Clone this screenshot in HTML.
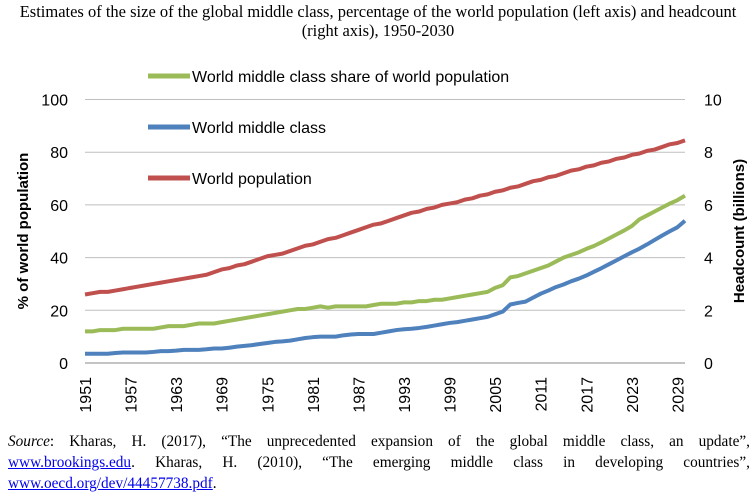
<!DOCTYPE html>
<html><head><meta charset="utf-8">
<style>
body{margin:0;background:#fff;width:756px;height:500px;overflow:hidden;position:relative;font-family:"Liberation Sans",sans-serif}
#title{position:absolute;left:0;top:2px;width:756px;text-align:center;font:16.5px/19px "Liberation Serif",serif;color:#000}
#source{position:absolute;left:8px;top:431px;width:742px;font:15.3px/21px "Liberation Serif",serif;color:#000}
#source .j{display:block;text-align:justify;text-align-last:justify;white-space:nowrap}
#source .j{white-space:normal}
#source a{color:#00e;text-decoration:underline}
</style></head><body>
<div id="title">Estimates of the size of the global middle class, percentage of the world population (left axis) and headcount<br>(right axis), 1950-2030</div>
<svg id="chart" width="756" height="430" style="position:absolute;left:0;top:0"></svg>
<div id="source"><span class="j"><i>Source</i>: Kharas, H. (2017), “The unprecedented expansion of the global middle class, an update”,</span><span class="j"><a href="#">www.brookings.edu</a>. Kharas, H. (2010), “The emerging middle class in developing countries”,</span><span><a href="#">www.oecd.org/dev/44457738.pdf</a>.</span></div>
<script>
const startYear = 1951;
const population = [2.60,2.65,2.70,2.70,2.75,2.80,2.85,2.90,2.95,3.00,
3.05,3.10,3.15,3.20,3.25,3.30,3.35,3.45,3.55,3.60,
3.70,3.75,3.85,3.95,4.05,4.10,4.15,4.25,4.35,4.45,
4.50,4.60,4.70,4.75,4.85,4.95,5.05,5.15,5.25,5.30,
5.40,5.50,5.60,5.70,5.75,5.85,5.90,6.00,6.05,6.10,
6.20,6.25,6.35,6.40,6.50,6.55,6.65,6.70,6.80,6.90,
6.95,7.05,7.10,7.20,7.30,7.35,7.45,7.50,7.60,7.65,
7.75,7.80,7.90,7.95,8.05,8.10,8.20,8.30,8.35,8.45];
const middleClass = [0.35,0.35,0.35,0.35,0.38,0.40,0.40,0.40,0.40,0.42,
0.45,0.45,0.47,0.50,0.50,0.50,0.52,0.55,0.55,0.58,
0.62,0.65,0.68,0.72,0.76,0.80,0.82,0.85,0.90,0.95,
0.98,1.0,1.0,1.0,1.05,1.08,1.1,1.1,1.1,1.15,
1.2,1.25,1.28,1.3,1.33,1.37,1.42,1.47,1.52,1.55,
1.6,1.65,1.7,1.75,1.85,1.95,2.22,2.28,2.33,2.48,
2.63,2.75,2.88,2.98,3.1,3.2,3.32,3.46,3.6,3.75,
3.9,4.05,4.2,4.34,4.5,4.67,4.84,5.0,5.15,5.4];
const sharePct = [12,12,12.5,12.5,12.5,13,13,13,13,13,
13.5,14,14,14,14.5,15,15,15,15.5,16,
16.5,17,17.5,18,18.5,19,19.5,20,20.5,20.5,
21,21.5,21,21.5,21.5,21.5,21.5,21.5,22,22.5,
22.5,22.5,23,23,23.5,23.5,24,24,24.5,25,
25.5,26,26.5,27,28.5,29.5,32.5,33,34,35,
36,37,38.5,40,41,42,43.3,44.4,45.8,47.3,
48.8,50.3,52,54.5,56,57.5,59,60.5,61.8,63.5];
const leftTicks = [0,20,40,60,80,100];
const rightTicks = [0,2,4,6,8,10];
const xTickYears = [1951,1957,1963,1969,1975,1981,1987,1993,1999,2005,2011,2017,2023,2029];

const svg = document.getElementById('chart');
const NS = 'http://www.w3.org/2000/svg';
const L=85,R=685,T=99.5,B=363;
const n = population.length;
const x = i => L + i*(R-L)/(n-1);
const yL = v => B - v/100*(B-T);
const yR = v => B - v/10*(B-T);
function mk(tag, attrs){const e=document.createElementNS(NS,tag);for(const k in attrs)e.setAttribute(k,attrs[k]);svg.appendChild(e);return e;}

leftTicks.forEach(v=>{
  const g = mk('line',{x1:L,x2:R,y1:yL(v),y2:yL(v),stroke:v===0?'#888':'#bfbfbf','stroke-width':1});
  
  
  const t = mk('text',{x:68,y:yL(v)+6,'text-anchor':'end','font-size':16,fill:'#000'});
  t.textContent=v;
  
  
});
rightTicks.forEach(v=>{
  const t = mk('text',{x:704,y:yR(v)+6,'font-size':16,fill:'#000'});
  t.textContent=v;
  
  
});
xTickYears.forEach(yr=>{
  const i = yr-startYear;
  const t = mk('text',{transform:`translate(${x(i)+6},${377}) rotate(-90)`,'text-anchor':'end','font-size':16,fill:'#000'});
  t.textContent=yr;
  
  
});
let a = mk('text',{transform:'translate(28,231) rotate(-90)','text-anchor':'middle','font-size':15,'font-weight':'bold',fill:'#000'});
a.textContent='% of world population';


a = mk('text',{transform:'translate(744,231) rotate(-90)','text-anchor':'middle','font-size':15,'font-weight':'bold',fill:'#000'});
a.textContent='Headcount  (billions)';



function series(vals, yf, color, name){
  const p = mk('polyline',{points:vals.map((v,i)=>x(i)+','+yf(v)).join(' '),fill:'none',stroke:color,'stroke-width':4,'stroke-linejoin':'round'});
  
  
}
series(population,yR,'#c0504d','world-population-line');
series(middleClass,yR,'#4f81bd','world-middle-class-line');
series(sharePct,yL,'#9bbb59','middle-class-share-line');

[['World middle class share of world population','#9bbb59',76],['World middle class','#4f81bd',127],['World population','#c0504d',178]].forEach(([lab,c,y])=>{
  const l = mk('line',{x1:148,x2:190,y1:y,y2:y,stroke:c,'stroke-width':5});
  
  
  const t = mk('text',{x:192,y:y+6,'font-size':16,fill:'#000'});
  t.textContent=lab;
  
  
});
</script>
</body></html>
